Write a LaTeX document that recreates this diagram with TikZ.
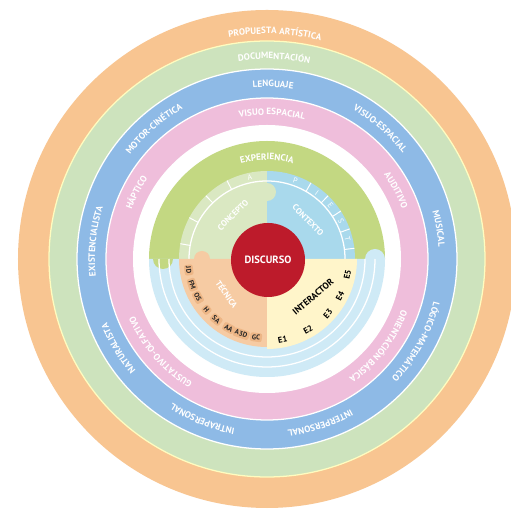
\documentclass[tikz,border=0pt]{standalone}
\usepackage{fontspec}
\setsansfont{PT Sans}
\usetikzlibrary{decorations.text}
\pgfdeclarelayer{edgelayer}
\pgfdeclarelayer{nodelayer}
\pgfsetlayers{edgelayer,nodelayer,main}
\definecolor{naranja}{HTML}{F8C591}
\definecolor{verdeclaro}{HTML}{CDE3BD}
\definecolor{azul}{HTML}{8EBAE6}
\definecolor{rosa}{HTML}{EFBEDB}
\definecolor{verdeexp}{HTML}{C3D882}
\definecolor{verdecon}{HTML}{DAE8C2}
\definecolor{celeste}{HTML}{A9D9EC}
\definecolor{celestepal}{HTML}{CFEAF6}
\definecolor{naranjatec}{HTML}{F6CBA3}
\definecolor{cajatec}{HTML}{EDB686}
\definecolor{amarillo}{HTML}{FFF5CA}
\definecolor{rojo}{HTML}{BD1B2B}
\tikzstyle{separator}=[draw=white,line width=0.9pt]
\tikzstyle{tick}=[draw=white,line width=0.7pt]
\tikzstyle{letter}=[font=\sffamily\fontsize{5.5}{6}\selectfont,text=white,inner sep=0pt]
\tikzstyle{tag}=[rounded corners=1.5pt,fill=cajatec,inner sep=1.3pt,font=\sffamily\bfseries\fontsize{5}{5}\selectfont,text=black!85]
\tikzstyle{quadrant}=[font=\sffamily\bfseries\fontsize{6}{7}\selectfont,text=white]
\tikzstyle{center}=[circle,fill=rojo,minimum size=1.85cm,font=\sffamily\bfseries\fontsize{7.5}{8}\selectfont,text=white]
\newcommand{\ringfont}{\color{white}\sffamily\bfseries\fontsize{6.5}{7}\selectfont}
\newcommand{\ringlabel}[3]{%
  \path [decorate,decoration={text along path,text align=center,text={|\ringfont|#3}}]
    (#2+70:#1) arc [start angle=#2+70,end angle=#2-70,radius=#1];}

\begin{document}
\begin{tikzpicture}[x=0.025cm,y=0.025cm]
	\useasboundingbox (-267,-251) rectangle (244,259);
	\begin{pgfonlayer}{edgelayer}
		\fill [white] (-267,-251) rectangle (244,259);
		% outer rings
		\fill [naranja] (0,0) circle (249);
		\fill [verdeclaro] (0,0) circle (218);
		\fill [azul] (0,0) circle (190);
		\fill [rosa] (0,0) circle (161);
		\fill [white] (0,0) circle (134);
		\draw [separator,draw=yellow!25] (0,0) circle (218);
		\draw [separator] (0,0) circle (190);
		\draw [separator] (0,0) circle (161);
		% inner disc
		\fill [verdeexp] (118,0) arc [start angle=0,end angle=180,radius=118] -- cycle;
		\fill [celestepal] (-118,0) arc [start angle=180,end angle=360,radius=118] -- cycle;
		\fill [verdeexp] (-114,0) arc [start angle=180,end angle=360,radius=10] -- cycle;
		\fill [celestepal] (98,0) arc [start angle=180,end angle=0,radius=10] -- cycle;
		\draw [separator] (-108,0) arc [start angle=180,end angle=360,radius=108];
		\draw [separator] (-98,0) arc [start angle=180,end angle=360,radius=98];
		\fill [verdecon] (0,0) -- (0,88) arc [start angle=90,end angle=180,radius=88] -- cycle;
		\fill [celeste] (0,0) -- (88,0) arc [start angle=0,end angle=90,radius=88] -- cycle;
		\fill [verdecon] (0,58) arc [start angle=-90,end angle=90,radius=9] -- cycle;
		\draw [separator] (0,78) arc [start angle=90,end angle=180,radius=78];
		\draw [separator] (78,0) arc [start angle=0,end angle=90,radius=78];
		\foreach \a in {117,134,152,170}
			\draw [tick] (\a:78) -- (\a:88);
		\foreach \a in {60,46,33,20,7}
			\draw [tick] (\a:78) -- (\a:88);
		\fill [naranjatec] (0,0) -- (-88,0) arc [start angle=180,end angle=270,radius=88] -- cycle;
		\fill [naranjatec] (-73,0) arc [start angle=180,end angle=0,radius=8] -- cycle;
		\fill [amarillo] (0,0) -- (0,-90) arc [start angle=270,end angle=360,radius=90] -- cycle;
	\end{pgfonlayer}
	\begin{pgfonlayer}{nodelayer}
		% ring labels
		\ringlabel{225}{88}{PROPUESTA ARTÍSTICA}
		\ringlabel{200}{88}{DOCUMENTACIÓN}
		\ringlabel{172}{88}{LENGUAJE}
		\ringlabel{172}{131}{MOTOR-CINÉTICA}
		\ringlabel{172}{49}{VISUO-ESPACIAL}
		\ringlabel{172}{10}{MUSICAL}
		\ringlabel{172}{-29}{LÓGICO-MATEMÁTICO}
		\ringlabel{172}{-72}{INTERPERSONAL}
		\ringlabel{172}{-112}{INTRAPERSONAL}
		\ringlabel{172}{-149}{NATURALISTA}
		\ringlabel{172}{174}{EXISTENCIALISTA}
		\ringlabel{144}{88}{VISUO ESPACIAL}
		\ringlabel{144}{153}{HÁPTICO}
		\ringlabel{144}{28}{AUDITIVO}
		\ringlabel{144}{-38}{ORIENTACIÓN BÁSICA}
		\ringlabel{144}{-139}{GUSTATIVO-OLFATIVO}
		\ringlabel{99}{90}{EXPERIENCIA}
		% letters
		\node [letter,rotate=12] (0) at (102:83) {A};
		\node [letter,rotate=-20] (1) at (70:83) {P};
		\node [letter,rotate=-37] (2) at (53:83) {I};
		\node [letter,rotate=-50] (3) at (40:83) {E};
		\node [letter,rotate=-63] (4) at (27:83) {S};
		\node [letter,rotate=-76] (5) at (14:83) {T};
		% quadrants
		\node [quadrant,rotate=45] (6) at (-34,44) {CONCEPTO};
		\node [quadrant,rotate=-45] (7) at (41,39) {CONTEXTO};
		\node [quadrant,rotate=-55] (8) at (-40,-35) {TÉCNICA};
		\node [font=\sffamily\bfseries\fontsize{6.5}{7}\selectfont,rotate=40,inner sep=1pt] (9) at (46,-38) {INTERACTOR};
		\foreach \a/\t [count=\i] in {-79/E1,-60/E2,-42/E3,-27/E4,-11/E5}
			\node [font=\sffamily\bfseries\fontsize{6}{6}\selectfont,rotate=\a+90,inner sep=1pt] (e\i) at (\a:82) {\t};
		\foreach \a/\t [count=\i] in {-172/JD,-161/FM,-151/OS,-140/H,-130/SA,-119/AA,-109/A3D,-98/GC}
			\node [tag,rotate=\a+90] (t\i) at (\a:79) {\t};
		\node [style=center] (10) at (1,-1) {DISCURSO};
	\end{pgfonlayer}
\end{tikzpicture}
\end{document}
